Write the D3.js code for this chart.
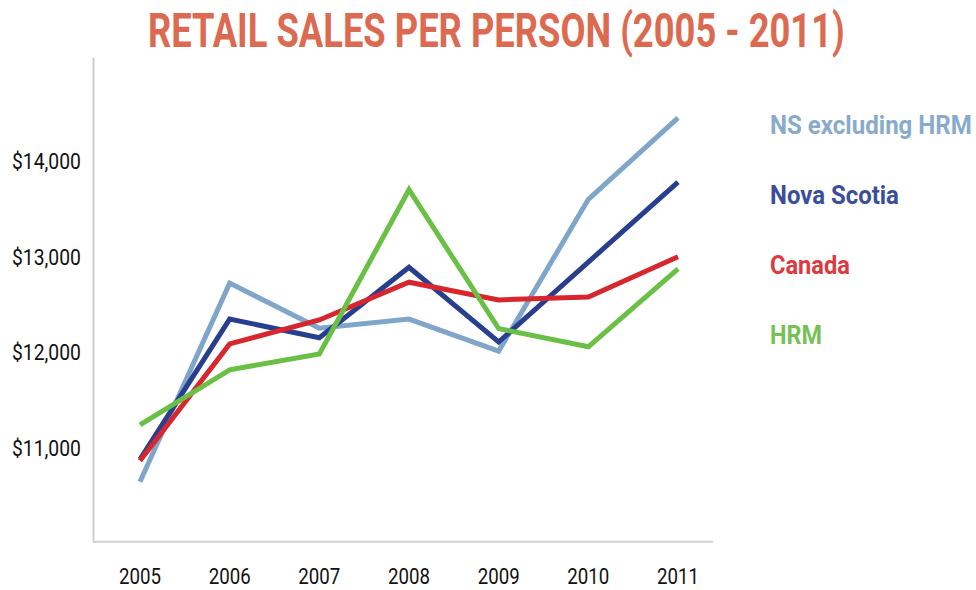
<!DOCTYPE html>
<html>
<head>
<meta charset="utf-8">
<script src="https://cdn.jsdelivr.net/npm/d3@7"></script>
<style>
  html, body { margin: 0; padding: 0; background: #fff; }
  svg text { font-family: Roboto, "Liberation Sans", sans-serif; }
</style>
</head>
<body>
<svg id="chart" width="976" height="590"></svg>
<script>
// Retail sales per person, 2005-2011
const years = ["2005", "2006", "2007", "2008", "2009", "2010", "2011"];
const nsExclHrm = [10650, 12725, 12255, 12350, 12015, 13600, 14450];
const novaScotia = [10885, 12350, 12155, 12890, 12110, 12945, 13780];
const canada = [10870, 12090, 12340, 12735, 12550, 12580, 13000];
const hrm = [11245, 11820, 11985, 13700, 12250, 12060, 12875];
const yTicks = [11000, 12000, 13000, 14000];

const seriesNames = ["NS excluding HRM", "Nova Scotia", "Canada", "HRM"];
const seriesValues = [nsExclHrm, novaScotia, canada, hrm];
const lineColors = ["#7fa6c9", "#283f8f", "#d7262e", "#6abf45"];
const labelColors = ["#88abcc", "#3a4e9b", "#dc3a40", "#74c255"];
const labelWidths = [202, 129, 80, 52];

const svg = d3.select("#chart");

const x = d3.scalePoint().domain(years).range([140, 678]);
const y = d3.scaleLinear().domain([10025, 15080]).range([541.7, 57.6]);

// Condense each text horizontally so it spans the given width.
// Text is drawn at the origin and placed with a transform; anchor "end" aligns the right edge.
function condense(sel, px, py, width, anchor) {
  sel.each(function (d, i) {
    const t = d3.select(this).attr("x", 0).attr("y", 0);
    const natural = this.getComputedTextLength();
    const w = typeof width === "function" ? width(d, i) : width;
    const sx = w / natural;
    const ax = (typeof px === "function" ? px(d, i) : px) - (anchor === "end" ? w : 0);
    const ay = typeof py === "function" ? py(d, i) : py;
    t.attr("transform", `translate(${ax},${ay}) scale(${sx},1)`);
  });
}

// Title
svg.append("text")
  .attr("font-size", 48).attr("font-weight", 700)
  .attr("fill", "#db6a51")
  .text("RETAIL SALES PER PERSON (2005 - 2011)")
  .call(condense, 148, 47, 697);

// Axis frame: left and bottom lines
const [yLo, yHi] = y.domain();
svg.append("path")
  .attr("d", `M93.5,${y(yHi)}V${y(yLo)}H713`)
  .attr("fill", "none").attr("stroke", "#cfcfcf").attr("stroke-width", 2);

// Y tick labels
svg.append("g").selectAll("text").data(yTicks).join("text")
  .attr("dy", "0.36em")
  .attr("font-size", 22).attr("fill", "#111")
  .text(d => "$" + d3.format(",")(d))
  .call(condense, 81, d => y(d), 69, "end");

// X tick labels
svg.append("g").selectAll("text").data(years).join("text")
  .attr("font-size", 22).attr("fill", "#111")
  .text(d => d)
  .call(condense, d => x(d) - 21, 584, 42);

// Series lines
const line = d3.line().x((d, i) => x(years[i])).y(d => y(d));
svg.append("g").selectAll("path").data(seriesValues).join("path")
  .attr("d", d => line(d))
  .attr("fill", "none")
  .attr("stroke", (d, i) => lineColors[i])
  .attr("stroke-width", 5)
  .attr("stroke-linejoin", "miter");

// Legend labels
svg.append("g").selectAll("text").data(seriesNames).join("text")
  .attr("font-size", 26).attr("font-weight", 700)
  .attr("fill", (d, i) => labelColors[i])
  .text(d => d)
  .call(condense, 770, (d, i) => 134 + i * 70, (d, i) => labelWidths[i]);
</script>
</body>
</html>
